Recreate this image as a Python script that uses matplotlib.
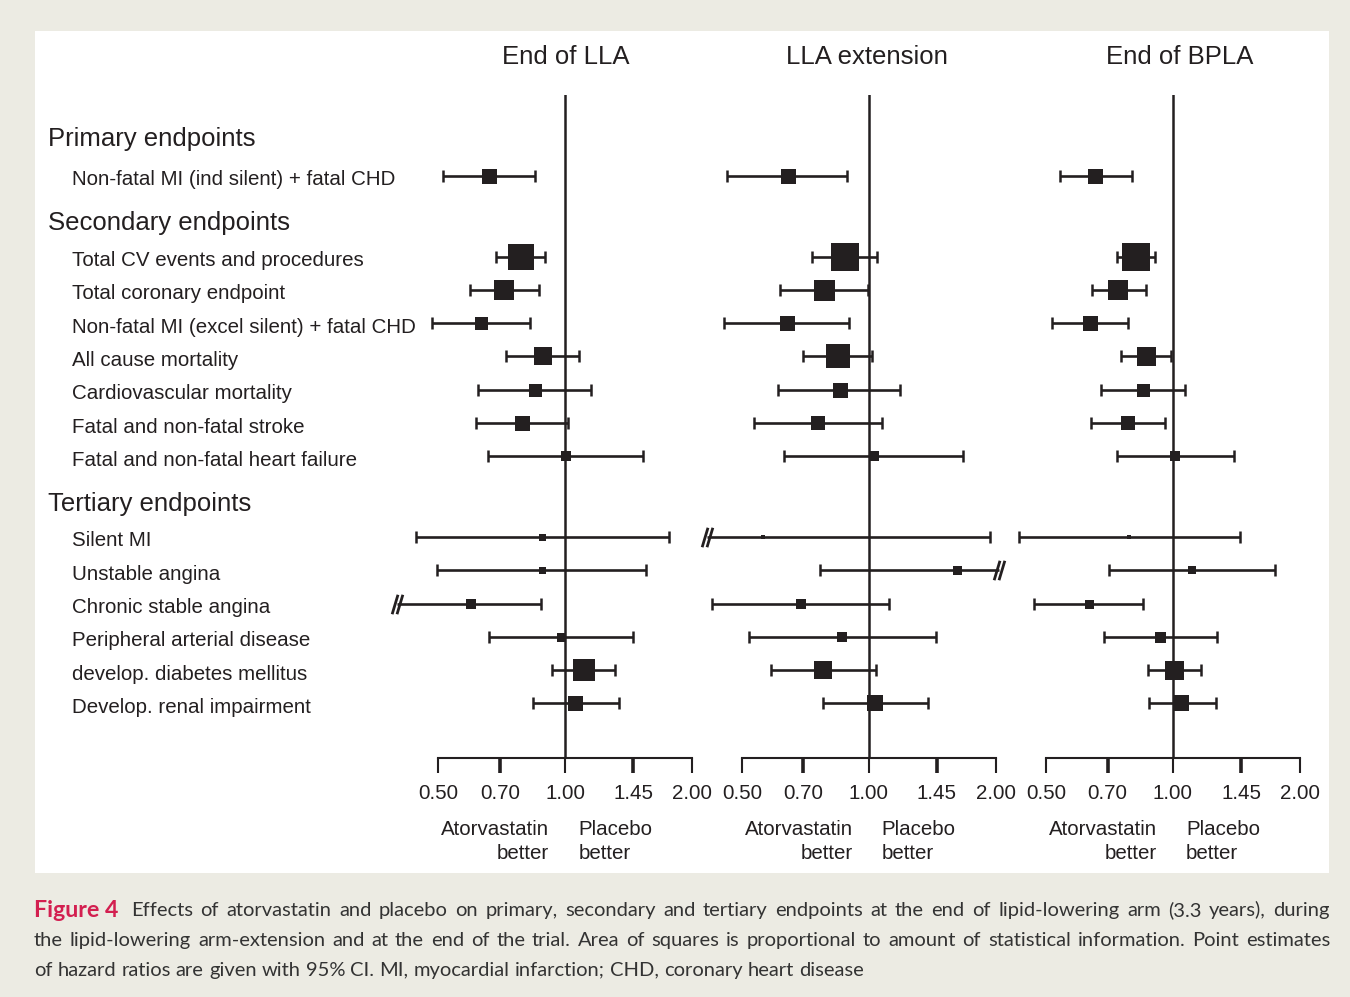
import numpy as np
import matplotlib
matplotlib.use("Agg")
import matplotlib.pyplot as plt
from matplotlib.path import Path
from matplotlib.patches import Rectangle
from matplotlib.transforms import blended_transform_factory

# ---------------- data ----------------
panels = ["End of LLA", "LLA extension", "End of BPLA"]

groups = ["Primary endpoints", "Secondary endpoints", "Tertiary endpoints"]
endpoints = [
    ["Non-fatal MI (ind silent) + fatal CHD"],
    ["Total CV events and procedures", "Total coronary endpoint",
     "Non-fatal MI (excel silent) + fatal CHD", "All cause mortality",
     "Cardiovascular mortality", "Fatal and non-fatal stroke",
     "Fatal and non-fatal heart failure"],
    ["Silent MI", "Unstable angina", "Chronic stable angina",
     "Peripheral arterial disease", "develop. diabetes mellitus",
     "Develop. renal impairment"],
]

# hazard ratios with lower / upper 95% CI (endpoint order as above)
hr_lla = [0.658, 0.785, 0.715, 0.631, 0.884, 0.847, 0.791, 1.002,
          0.882, 0.882, 0.597, 0.977, 1.108, 1.054]
lo_lla = [0.513, 0.686, 0.595, 0.483, 0.725, 0.621, 0.615, 0.656,
          0.442, 0.496, 0.400, 0.659, 0.931, 0.837]
hi_lla = [0.846, 0.894, 0.866, 0.825, 1.076, 1.149, 1.015, 1.530,
          1.760, 1.556, 0.877, 1.448, 1.314, 1.341]

hr_ext = [0.642, 0.879, 0.785, 0.640, 0.843, 0.853, 0.757, 1.029,
          0.561, 1.619, 0.689, 0.863, 0.779, 1.036]
lo_ext = [0.462, 0.735, 0.616, 0.454, 0.700, 0.610, 0.535, 0.629,
          0.414, 0.765, 0.424, 0.520, 0.585, 0.777]
hi_ext = [0.889, 1.048, 0.997, 0.899, 1.018, 1.186, 1.077, 1.673,
          1.935, 2.030, 1.117, 1.440, 1.039, 1.383]

hr_bpla = [0.654, 0.817, 0.742, 0.635, 0.863, 0.847, 0.781, 1.011,
           0.788, 1.109, 0.633, 0.933, 1.005, 1.043]
lo_bpla = [0.539, 0.736, 0.642, 0.516, 0.753, 0.675, 0.638, 0.736,
           0.431, 0.704, 0.468, 0.685, 0.871, 0.876]
hi_bpla = [0.798, 0.908, 0.862, 0.783, 0.991, 1.068, 0.957, 1.393,
           1.440, 1.742, 0.850, 1.274, 1.167, 1.265]

# relative statistical information (square area)
info_lla = [2.25, 6.76, 4.00, 1.69, 3.24, 1.69, 2.25, 1.00,
            0.49, 0.49, 1.00, 0.81, 4.84, 2.25]
info_ext = [2.25, 7.84, 4.41, 2.25, 5.76, 2.25, 1.96, 1.00,
            0.16, 0.81, 1.00, 1.00, 3.24, 2.56]
info_bpla = [2.25, 7.84, 4.00, 2.25, 3.61, 1.69, 1.96, 1.00,
             0.25, 0.64, 0.81, 1.21, 3.61, 2.56]

# CI ends that run off the scale: (panel, endpoint index, side)
truncated = [(0, 10, "lo"), (1, 8, "lo"), (1, 9, "hi")]

ticks = [0.50, 0.70, 1.00, 1.45, 2.00]
tick_labels = ["0.50", "0.70", "1.00", "1.45", "2.00"]

caption_head = "Figure 4"
caption_lines = [
    "Effects of atorvastatin and placebo on primary, secondary and tertiary endpoints at the end of lipid-lowering arm (3.3 years), during",
    "the lipid-lowering arm-extension and at the end of the trial. Area of squares is proportional to amount of statistical information. Point estimates",
    "of hazard ratios are given with 95% CI. MI, myocardial infarction; CHD, coronary heart disease",
]

hr_all = [hr_lla, hr_ext, hr_bpla]
lo_all = [lo_lla, lo_ext, lo_bpla]
hi_all = [hi_lla, hi_ext, hi_bpla]
info_all = [info_lla, info_ext, info_bpla]

# ---------------- layout ----------------
W, H = 1350, 997
INK = "#231f20"
FONT = "Liberation Sans"
plt.rcParams["font.family"] = [FONT, "DejaVu Sans"]

fig = plt.figure(figsize=(W / 100, H / 100), dpi=100, facecolor="#ecebe3")
fig.add_artist(Rectangle((35 / W, 1 - 873 / H), (1329 - 35) / W, (873 - 31) / H,
                         transform=fig.transFigure, facecolor="white",
                         edgecolor="none", zorder=0))

# row positions (1 unit = one row)
ypos, header_y = [], []
y = 0.0
for g, items in enumerate(endpoints):
    header_y.append(y - (1.11 if g == 0 else 1.0))
    for _ in items:
        ypos.append(y)
        y += 1
    y += 1.42

row_px, y0_px = 33.3, 176
top_px, bot_px = 95, 758
ylim = ((bot_px - y0_px) / row_px, (top_px - y0_px) / row_px)

px_per_log = 183.2
xmin, xmax = 0.384, 2.144
ax_w = (np.log(xmax) - np.log(xmin)) * px_per_log
centers = [565.3, 868.8, 1173.0]
title_shift = [1.0, 0.99, 1.04]

break_marker = Path([(-0.55, -1), (0.05, 1), (-0.05, -1), (0.55, 1)],
                    [Path.MOVETO, Path.LINETO, Path.MOVETO, Path.LINETO])

axes = []
for p, title in enumerate(panels):
    left = centers[p] + np.log(xmin) * px_per_log
    ax = fig.add_axes([left / W, 1 - bot_px / H, ax_w / W, (bot_px - top_px) / H])
    ax.set_xscale("log")
    ax.set_xlim(xmin, xmax)
    ax.set_ylim(*ylim)
    ax.patch.set_visible(False)
    for s in ["left", "right", "top"]:
        ax.spines[s].set_visible(False)
    ax.spines["bottom"].set_bounds(0.5, 2.0)
    ax.spines["bottom"].set_linewidth(1.5)
    ax.spines["bottom"].set_color(INK)
    ax.set_yticks([])
    ax.set_xticks(ticks)
    ax.set_xticklabels(tick_labels)
    ax.xaxis.set_minor_locator(matplotlib.ticker.NullLocator())
    ax.tick_params(axis="x", direction="out", length=10.5, width=1.5,
                   colors=INK, labelsize=14.8, pad=8)
    for t, v in zip(ax.xaxis.get_major_ticks(), ticks):
        if v in (0.70, 1.45):
            t.tick1line.set_markeredgewidth(2.6)
    ax.axvline(1.0, color=INK, lw=1.8, zorder=1)

    hr, lo, hi, info = hr_all[p], lo_all[p], hi_all[p], info_all[p]
    for i, yy in enumerate(ypos):
        ax.plot([lo[i], hi[i]], [yy, yy], color=INK, lw=1.9,
                solid_capstyle="butt", zorder=2, clip_on=False)
        for side, xv in (("lo", lo[i]), ("hi", hi[i])):
            if (p, i, side) in truncated:
                ax.plot([xv], [yy], ls="none", marker=break_marker, ms=14,
                        mew=2.0, color=INK, zorder=3, clip_on=False)
            else:
                ax.plot([xv], [yy], ls="none", marker="|", ms=8, mew=1.8,
                        color=INK, zorder=3, clip_on=False)
        side_px = 10 * np.sqrt(info[i])
        ax.plot([hr[i]], [yy], ls="none", marker="s", ms=side_px * 0.72,
                mew=0, color=INK, zorder=4, clip_on=False)

    tf = blended_transform_factory(ax.transData, fig.transFigure)
    ax.text(title_shift[p], 1 - 57 / H, title, transform=tf, ha="center",
            va="center", fontsize=18.5, color=INK)
    xl = np.exp(-16 / px_per_log)
    xr = np.exp(13 / px_per_log)
    ax.text(xl, 1 - 829 / H, "Atorvastatin", transform=tf, ha="right",
            va="center", fontsize=14.8, color=INK)
    ax.text(xl, 1 - 853 / H, "better", transform=tf, ha="right",
            va="center", fontsize=14.8, color=INK)
    ax.text(xr, 1 - 829 / H, "Placebo", transform=tf, ha="left",
            va="center", fontsize=14.8, color=INK)
    ax.text(xr, 1 - 853 / H, "better", transform=tf, ha="left",
            va="center", fontsize=14.8, color=INK)
    axes.append(ax)

# row labels
ax0 = axes[0]
lt = blended_transform_factory(fig.transFigure, ax0.transData)
k = 0
for g, items in enumerate(endpoints):
    fig.text(48 / W, header_y[g], groups[g], transform=lt, ha="left",
             va="center", fontsize=18.5, color=INK)
    for name in items:
        fig.text(72 / W, ypos[k] + 0.12, name, transform=lt, ha="left",
                 va="center", fontsize=14.8, color=INK)
        k += 1

# ---------------- caption ----------------
CAP = ["Lato", "DejaVu Sans"]
cap_color = "#333333"
red = "#d31f50"
renderer = fig.canvas.get_renderer()
head_scale = 1.15


def width_of(s, size, weight="normal"):
    t = fig.text(0, 0, s, family=CAP, fontsize=size, fontweight=weight)
    w = t.get_window_extent(renderer).width
    t.remove()
    return w


x_left, x_right = 34, 1330
full = x_right - x_left
ref = 10
w1 = width_of(caption_head, ref * head_scale, "bold") + width_of("  " + caption_lines[0], ref)
w2 = width_of(caption_lines[1], ref)
fs = 0.975 * min(ref * full / w1, ref * full / w2)

cap_y = [910, 940, 970]
space_w = width_of("a a", fs) - width_of("aa", fs)
for li, line in enumerate(caption_lines):
    words = line.split(" ")
    units = [(w, "normal", cap_color, fs) for w in words]
    if li == 0:
        units = [(caption_head, "bold", red, fs * head_scale)] + units
    widths = [width_of(u[0], u[3], u[1]) for u in units]
    extra = space_w if li == 0 else 0
    if li < 2:
        gap = (full - sum(widths) - extra) / (len(units) - 1)
    else:
        gap = space_w
    x = x_left
    for j, ((txt, wt, col, sz), wd) in enumerate(zip(units, widths)):
        fig.text(x / W, 1 - cap_y[li] / H, txt, family=CAP, fontsize=sz,
                 fontweight=wt, color=col, ha="left", va="center")
        x += wd + gap
        if j == 0:
            x += extra

fig.savefig("out.png", dpi=100, facecolor=fig.get_facecolor())
